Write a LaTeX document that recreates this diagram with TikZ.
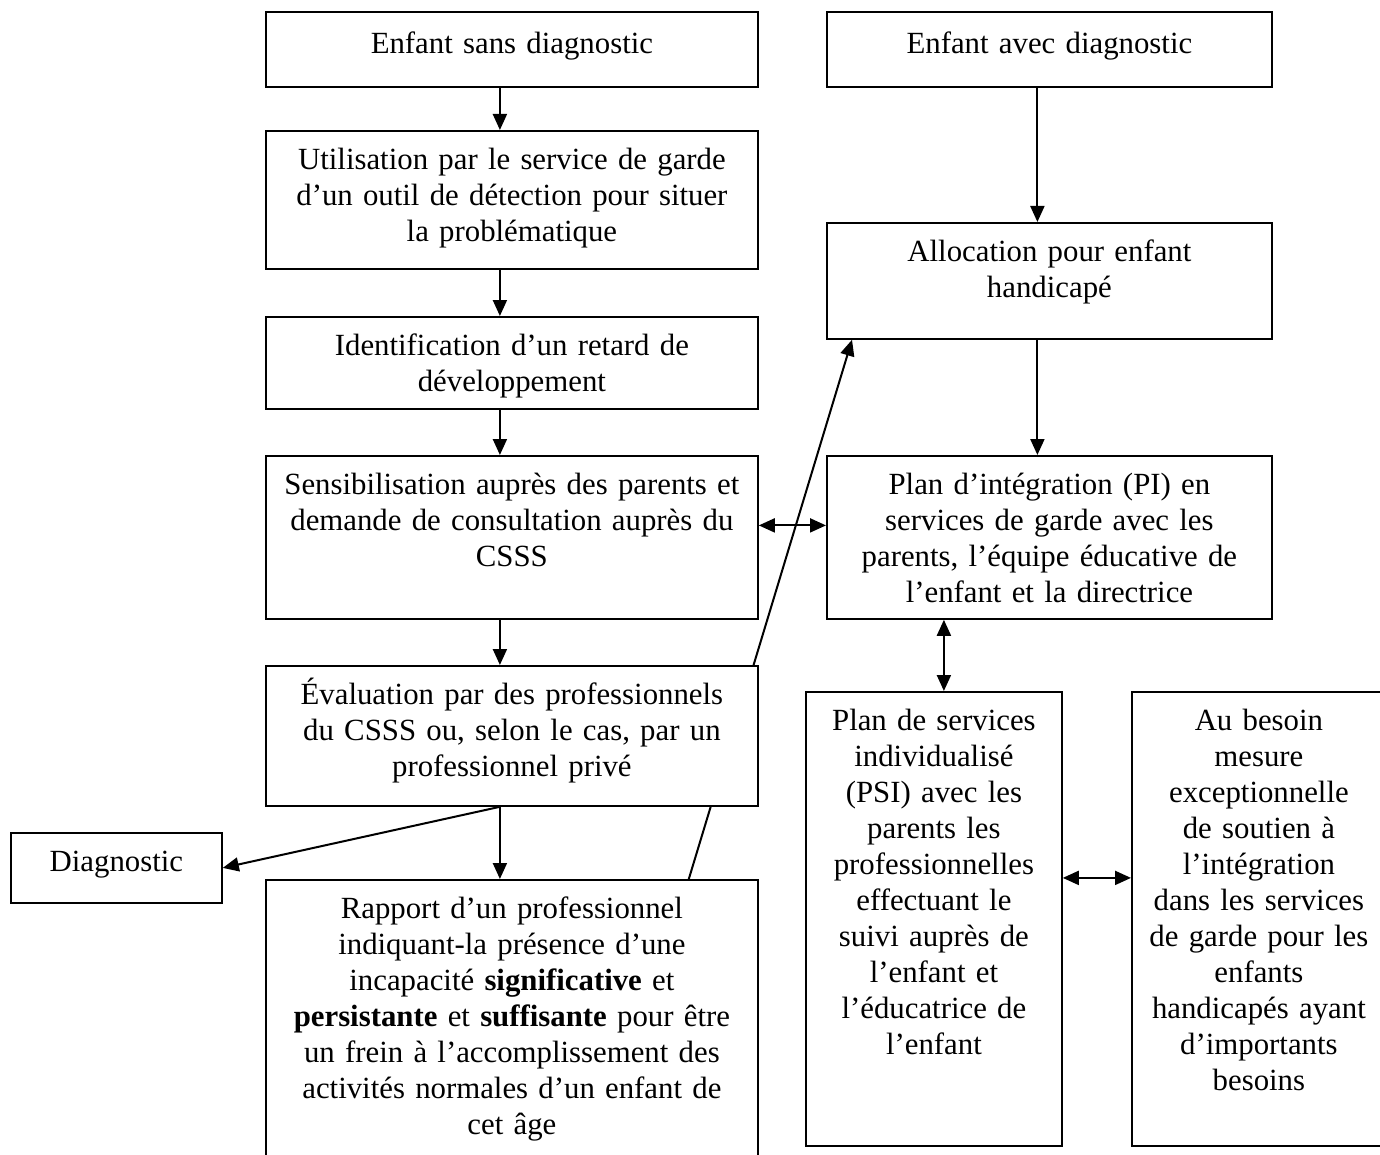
\documentclass[tikz,border=0pt]{standalone}
\usepackage{fontspec}
\setmainfont{Liberation Serif}
\usepackage{tikz}
\usetikzlibrary{arrows.meta}
\usetikzlibrary{backgrounds}
\tikzstyle{boite}=[draw, fill=white, line width=0.9pt, anchor=north west, align=center, inner xsep=0pt, inner ysep=0pt, text height=19.5pt, font=\fontsize{15.4}{18}\selectfont]
\tikzstyle{fleche}=[line width=1pt, -{Triangle[length=8pt,width=7pt]}]
\tikzstyle{fleche2}=[line width=1pt, {Triangle[length=8pt,width=7pt]}-{Triangle[length=8pt,width=7pt]}]

\begin{document}
\begin{tikzpicture}[x=0.5pt,y=0.5pt]
\useasboundingbox (0,0) rectangle (1380,-1155);
\clip (0,0) rectangle (1380,-1155);
% colonne de gauche
\node[boite, text width=246pt, text depth=16.5pt, text height=21pt] (sans) at (265,-11) {Enfant sans diagnostic};
\node[boite, text width=246pt, text depth=49.5pt] (util) at (265,-130) {Utilisation par le service de garde\\d’un outil de détection pour situer\\la problématique};
\node[boite, text width=246pt, text depth=26.5pt] (ident) at (265,-316) {Identification d’un retard de\\développement};
\node[boite, text width=246pt, text depth=62pt] (sens) at (265,-455) {Sensibilisation auprès des parents et\\demande de consultation auprès du\\CSSS};
\node[boite, text width=246pt, text depth=50.5pt] (eval) at (265,-665) {Évaluation par des professionnels\\du CSSS ou, selon le cas, par un\\professionnel privé};
\node[boite, text width=246pt, text depth=138pt] (rapport) at (265,-879) {Rapport d’un professionnel\\indiquant-la présence d’une\\incapacité \textbf{significative} et\\\textbf{persistante} et \textbf{suffisante} pour être\\un frein à l’accomplissement des\\activités normales d’un enfant de\\cet âge};
\node[boite, text width=105.5pt, text depth=15.5pt] (diag) at (10,-832) {Diagnostic};
% colonne de droite
\node[boite, text width=222.5pt, text depth=16.5pt, text height=21pt] (avec) at (826,-11) {Enfant avec diagnostic};
\node[boite, text width=222.5pt, text depth=38.5pt] (alloc) at (826,-222) {Allocation pour enfant\\handicapé};
\node[boite, text width=222.5pt, text depth=62pt] (pi) at (826,-455) {Plan d’intégration (PI) en\\services de garde avec les\\parents, l’équipe éducative de\\l’enfant et la directrice};
\node[boite, text width=128pt, text depth=207.5pt] (psi) at (805,-691) {Plan de services\\individualisé\\(PSI) avec les\\parents les\\professionnelles\\effectuant le\\suivi auprès de\\l’enfant et\\l’éducatrice de\\l’enfant};
\node[boite, text width=127pt, text depth=207.5pt] (besoin) at (1131,-691) {Au besoin\\mesure\\exceptionnelle\\de soutien à\\l’intégration\\dans les services\\de garde pour les\\enfants\\handicapés ayant\\d’importants\\besoins};

\foreach \a/\b in {sans/util, util/ident, ident/sens, sens/eval, eval/rapport, avec/alloc, alloc/pi} {
 \draw[fleche] ([xshift=-6pt]\a.south) -- ([xshift=-6pt]\b.north);
}
\draw[fleche] ([xshift=-6pt]eval.south) -- (diag.east);
\draw[fleche2] ([yshift=6pt]sens.east) -- ([yshift=6pt]pi.west);
\draw[fleche2] ([xshift=5pt]psi.north) -- ([xshift=5pt]psi.north |- pi.south);
\draw[fleche2] ([yshift=20.5pt]psi.east) -- ([yshift=20.5pt]besoin.west);
\begin{pgfonlayer}{background}
\draw[fleche] ([xshift=-35pt]rapport.north east) -- ([xshift=13pt]alloc.south west);
\end{pgfonlayer}
\end{tikzpicture}
\end{document}
